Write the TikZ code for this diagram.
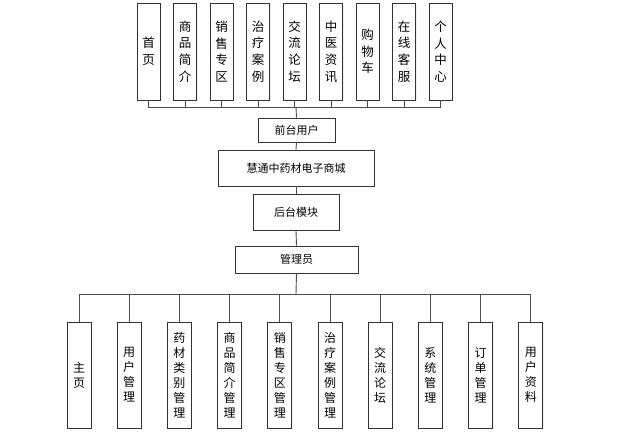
\documentclass[tikz,border=0pt]{standalone}
\usepackage{fontspec}
\newfontfamily\cjk{Noto Sans CJK SC}
\usetikzlibrary{positioning,shadows}

\begin{document}
\begin{tikzpicture}[
  x=1pt,
  y=-1pt,
  line width=0.9pt,
  box/.style={
    draw=black!80,
    fill=white,
    drop shadow={shadow xshift=1pt,shadow yshift=-1pt,fill=black!12},
    inner sep=0pt,
    align=center
  },
  topbox/.style={
    box,
    minimum width=23pt,
    minimum height=97pt,
    font=\cjk\fontsize{12.5}{16.7}\selectfont
  },
  midbox/.style={
    box,
    font=\cjk\fontsize{11}{13}\selectfont
  },
  botbox/.style={
    box,
    minimum width=24pt,
    minimum height=106pt,
    font=\cjk\fontsize{12}{15}\selectfont
  },
  link/.style={draw=black!70}
]
  \useasboundingbox[fill=white] (0,0) rectangle (619,443);

  % front pages
  \node[topbox] (home) at (148.5,51.5) {首\\页};
  \node[topbox,right=12.6pt of home] (intro) {商\\品\\简\\介};
  \node[topbox,right=12.6pt of intro] (sale) {销\\售\\专\\区};
  \node[topbox,right=12.6pt of sale] (cases) {治\\疗\\案\\例};
  \node[topbox,right=12.6pt of cases] (forum) {交\\流\\论\\坛};
  \node[topbox,right=12.6pt of forum] (news) {中\\医\\资\\讯};
  \node[topbox,right=12.6pt of news] (cart) {购\\物\\车};
  \node[topbox,right=12.6pt of cart] (service) {在\\线\\客\\服};
  \node[topbox,right=12.6pt of service] (center) {个\\人\\中\\心};

  % middle chain
  \node[midbox,minimum width=77pt,minimum height=24pt] (user) at (296.5,130) {前台用户};
  \node[midbox,minimum width=156pt,minimum height=36pt] (shop) at (296,168) {慧通中药材电子商城};
  \node[midbox,minimum width=86pt,minimum height=36pt] (back) at (296,212) {后台模块};
  \node[midbox,minimum width=123pt,minimum height=27pt] (admin) at (296.5,259.5) {管理员};

  % back office pages
  \node[botbox] (main) at (79,375) {主\\页};
  \node[botbox,right=25.3pt of main] (users) {用\\户\\管\\理};
  \node[botbox,right=25.3pt of users] (herbs) {药\\材\\类\\别\\管\\理};
  \node[botbox,right=25.3pt of herbs] (goods) {商\\品\\简\\介\\管\\理};
  \node[botbox,right=25.3pt of goods] (sales) {销\\售\\专\\区\\管\\理};
  \node[botbox,right=25.3pt of sales] (casem) {治\\疗\\案\\例\\管\\理};
  \node[botbox,right=25.3pt of casem] (talk) {交\\流\\论\\坛};
  \node[botbox,right=25.3pt of talk] (system) {系\\统\\管\\理};
  \node[botbox,right=25.3pt of system] (orders) {订\\单\\管\\理};
  \node[botbox,right=25.3pt of orders] (profile) {用\\户\\资\\料};

  \coordinate (topbus) at (296,107);
  \coordinate (botbus) at (296,294);

  % connectors
  \draw[link] (home.south) |- (topbus);
  \draw[link] (intro.south) |- (topbus);
  \draw[link] (sale.south) |- (topbus);
  \draw[link] (cases.south) |- (topbus);
  \draw[link] (forum.south) |- (topbus);
  \draw[link] (news.south) |- (topbus);
  \draw[link] (cart.south) |- (topbus);
  \draw[link] (service.south) |- (topbus);
  \draw[link] (center.south) |- (topbus);
  \draw[link] (topbus) -- (user.north);
  \draw[link] (user.south) -- (shop.north);
  \draw[link] (shop.south) -- (back.north);
  \draw[link] (back.south) -- (admin.north);
  \draw[link] (admin.south) -- (botbus);
  \draw[link] (main.north) |- (botbus);
  \draw[link] (users.north) |- (botbus);
  \draw[link] (herbs.north) |- (botbus);
  \draw[link] (goods.north) |- (botbus);
  \draw[link] (sales.north) |- (botbus);
  \draw[link] (casem.north) |- (botbus);
  \draw[link] (talk.north) |- (botbus);
  \draw[link] (system.north) |- (botbus);
  \draw[link] (orders.north) |- (botbus);
  \draw[link] (profile.north) |- (botbus);
\end{tikzpicture}
\end{document}
